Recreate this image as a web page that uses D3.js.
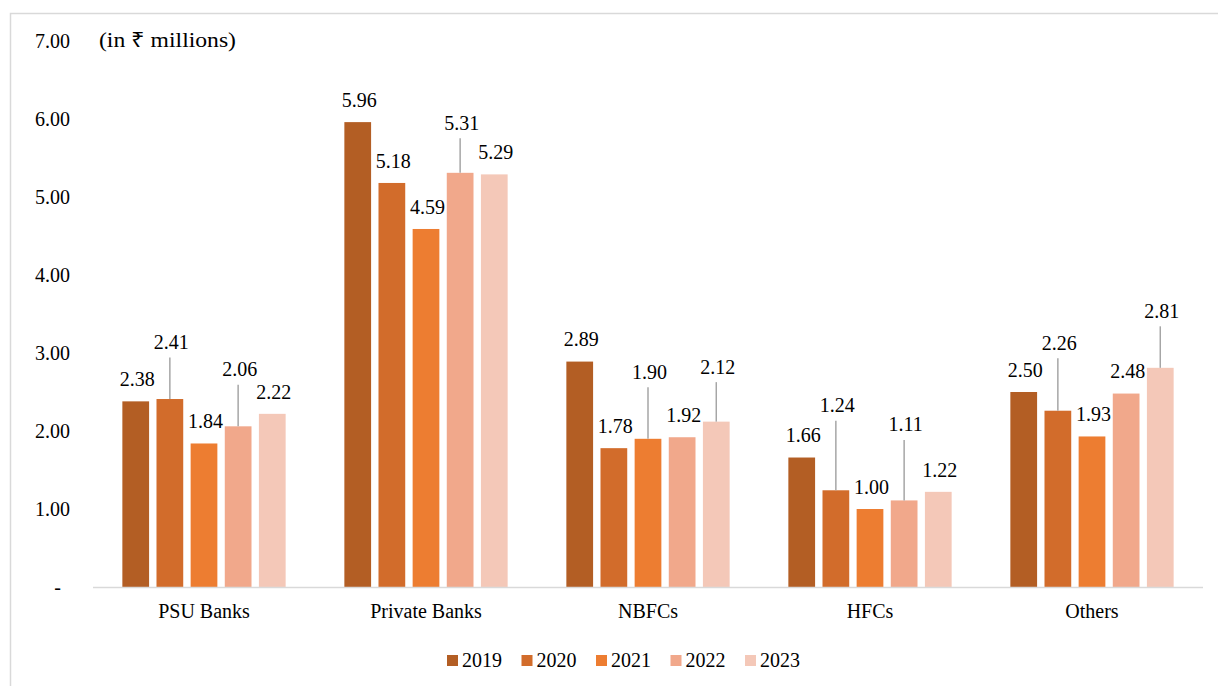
<!DOCTYPE html>
<html>
<head>
<meta charset="utf-8">
<script src="https://cdn.jsdelivr.net/npm/d3@7"></script>
<style>
	body { margin: 0; background: #fff; }
	svg text { font-family: "Liberation Serif", "Times New Roman", serif; fill: #000; }
</style>
</head>
<body>
<div id="chart"></div>
<script>
var categories = ["PSU Banks", "Private Banks", "NBFCs", "HFCs", "Others"];
var years = ["2019", "2020", "2021", "2022", "2023"];

// one array per year, in category order
var v2019 = [2.38, 5.96, 2.89, 1.66, 2.50];
var v2020 = [2.41, 5.18, 1.78, 1.24, 2.26];
var v2021 = [1.84, 4.59, 1.90, 1.00, 1.93];
var v2022 = [2.06, 5.31, 1.92, 1.11, 2.48];
var v2023 = [2.22, 5.29, 2.12, 1.22, 2.81];

var yTicks = [0, 1, 2, 3, 4, 5, 6, 7];
var unitLabel = "(in ₹ millions)";

var series = [v2019, v2020, v2021, v2022, v2023];

// extra lift (px) for labels that Excel pushed up with a leader line
var lift = {
	"PSU Banks|2020": 35, "PSU Banks|2022": 35,
	"Private Banks|2022": 28,
	"NBFCs|2021": 45, "NBFCs|2023": 33,
	"HFCs|2020": 63, "HFCs|2022": 54,
	"Others|2020": 46, "Others|2023": 35
};

var colors = ["#b35e24", "#d26c2b", "#ed7d31", "#f1a88b", "#f4c8b8"];

var width = 1218,
	height = 686;

var svg = d3.select("#chart").append("svg")
	.attr("width", width)
	.attr("height", height);

// chart border
svg.append("rect")
	.attr("x", 10.5)
	.attr("y", 13.5)
	.attr("width", 1230)
	.attr("height", 700)
	.style("fill", "none")
	.style("stroke", "#d9d9d9")
	.style("stroke-width", 1.5);

var x0 = d3.scaleBand().domain(categories).range([93, 1203]);
var x1 = d3.scaleBand().domain(years).range([0, x0.bandwidth()])
	.paddingInner(0.217).paddingOuter(0.86);
var y = d3.scaleLinear().domain([0, 7]).range([587, 41]);

var yAxis = d3.axisLeft(y)
	.tickValues(yTicks)
	.tickSize(0)
	.tickPadding(0)
	.tickFormat(function(d) { return d === 0 ? "-" : d3.format(".2f")(d); });

var ya = svg.append("g")
	.attr("transform", "translate(70,0)")
	.call(yAxis);
ya.select(".domain").remove();
ya.selectAll("text")
	.style("font-size", "20px")
	.attr("dy", "0.32em")
	.attr("x", function(d) { return d === 0 ? -9 : 0; });

svg.append("text")
	.attr("x", 99)
	.attr("y", 40)
	.attr("dy", "0.32em")
	.attr("textLength", 137)
	.attr("lengthAdjust", "spacingAndGlyphs")
	.style("font-size", "21px")
	.text(unitLabel);

var rows = [];
categories.forEach(function(c, ci) {
	years.forEach(function(yr, yi) {
		rows.push({ cat: c, year: yr, yi: yi, value: series[yi][ci] });
	});
});

var g = svg.append("g");

g.selectAll(".bar")
	.data(rows)
	.enter()
	.append("rect")
	.attr("class", "bar")
	.attr("x", function(d) { return x0(d.cat) + x1(d.year); })
	.attr("y", function(d) { return y(d.value); })
	.attr("width", x1.bandwidth())
	.attr("height", function(d) { return y(0) - y(d.value); })
	.style("fill", function(d) { return colors[d.yi]; });

// x axis line
svg.append("line")
	.attr("x1", 93).attr("x2", 1203)
	.attr("y1", y(0) + 0.5).attr("y2", y(0) + 0.5)
	.style("stroke", "#d9d9d9")
	.style("stroke-width", 1.5);

function labelX(d) { return x0(d.cat) + x1(d.year) + x1.bandwidth() / 2 + 1.5; }
function labelY(d) { return y(d.value) - 21.5 - (lift[d.cat + "|" + d.year] || 0); }

g.selectAll(".leader")
	.data(rows.filter(function(d) { return lift[d.cat + "|" + d.year]; }))
	.enter()
	.append("line")
	.attr("class", "leader")
	.attr("x1", function(d) { return labelX(d) - 1.5; })
	.attr("x2", function(d) { return labelX(d) - 1.5; })
	.attr("y1", function(d) { return labelY(d) + 15; })
	.attr("y2", function(d) { return y(d.value); })
	.style("stroke", "#a6a6a6")
	.style("stroke-width", 1.5);

g.selectAll(".lbl")
	.data(rows)
	.enter()
	.append("text")
	.attr("class", "lbl")
	.attr("x", labelX)
	.attr("y", labelY)
	.attr("dy", "0.32em")
	.attr("text-anchor", "middle")
	.style("font-size", "20px")
	.text(function(d) { return d3.format(".2f")(d.value); });

svg.selectAll(".cat")
	.data(categories)
	.enter()
	.append("text")
	.attr("class", "cat")
	.attr("x", function(d) { return x0(d) + x0.bandwidth() / 2; })
	.attr("y", 612)
	.attr("dy", "0.32em")
	.attr("text-anchor", "middle")
	.style("font-size", "20px")
	.text(function(d) { return d; });

var legend = svg.selectAll(".legend")
	.data(years)
	.enter()
	.append("g")
	.attr("class", "legend")
	.attr("transform", function(d, i) { return "translate(" + (447 + i * 74.5) + ",655)"; });

legend.append("rect")
	.attr("width", 11)
	.attr("height", 11)
	.style("fill", function(d, i) { return colors[i]; });

legend.append("text")
	.attr("x", 15)
	.attr("y", 6)
	.attr("dy", "0.32em")
	.style("font-size", "20px")
	.text(function(d) { return d; });
</script>
</body>
</html>
